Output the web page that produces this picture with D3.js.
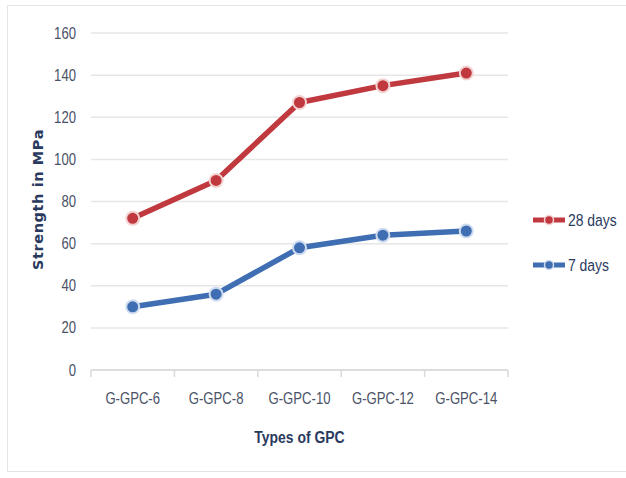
<!DOCTYPE html>
<html>
<head>
<meta charset="utf-8">
<script src="https://cdn.jsdelivr.net/npm/d3@7"></script>
<style>
  body { margin: 0; background: #fff; }
  svg { display: block; }
  text { font-family: "Liberation Sans", Arial, sans-serif; }
</style>
</head>
<body>
<svg id="chart"></svg>
<script>
// Chart data
const categories = ["G-GPC-6", "G-GPC-8", "G-GPC-10", "G-GPC-12", "G-GPC-14"];
const days28 = [72, 90, 127, 135, 141];
const days7 = [30, 36, 58, 64, 66];
const yTicks = [0, 20, 40, 60, 80, 100, 120, 140, 160];

const width = 626;
const height = 478;
const margin = { top: 33, right: 118, bottom: 108, left: 91 };
const narrow = 0.82; // squeeze text horizontally, Calibri-like

const svg = d3.select("#chart").attr("width", width).attr("height", height);

// Chart area border
svg.append("rect")
  .attr("x", 7.5).attr("y", 5.5)
  .attr("width", 630).attr("height", 466)
  .attr("fill", "#fff")
  .attr("stroke", "#e4e4e4");

const x = d3.scaleBand()
  .domain(categories)
  .range([margin.left, width - margin.right]);

const y = d3.scaleLinear()
  .domain([0, 160])
  .range([height - margin.bottom, margin.top]);

// Gridlines
svg.append("g")
  .selectAll("line")
  .data(yTicks)
  .join("line")
  .attr("x1", margin.left)
  .attr("x2", width - margin.right)
  .attr("y1", (d) => y(d))
  .attr("y2", (d) => y(d))
  .attr("stroke", "#e6e6e6")
  .attr("stroke-width", 1.5);

// Y axis labels
svg.append("g")
  .selectAll("text")
  .data(yTicks)
  .join("text")
  .attr("transform", (d) => `translate(76,${y(d) + 5.5}) scale(${narrow},1)`)
  .attr("text-anchor", "end")
  .attr("font-size", 16)
  .attr("fill", "#4a5266")
  .text((d) => d);

// X axis with category boundary ticks
const xAxisG = svg.append("g")
  .attr("transform", `translate(0,${y(0)})`);
xAxisG.append("line")
  .attr("x1", margin.left).attr("x2", width - margin.right)
  .attr("stroke", "#d9d9d9").attr("stroke-width", 1.5);
const bounds = categories.map((c) => x(c)).concat([x.range()[1]]);
xAxisG.selectAll("line.tick")
  .data(bounds)
  .join("line")
  .attr("class", "tick")
  .attr("x1", (d) => d).attr("x2", (d) => d)
  .attr("y1", 0).attr("y2", 7)
  .attr("stroke", "#d9d9d9").attr("stroke-width", 1.5);
xAxisG.selectAll("text")
  .data(categories)
  .join("text")
  .attr("transform", (d) => `translate(${x(d) + x.bandwidth() / 2},34) scale(${narrow},1)`)
  .attr("text-anchor", "middle")
  .attr("font-size", 16)
  .attr("fill", "#4a5266")
  .text((d) => d);

// Axis titles
svg.append("text")
  .attr("transform", `translate(43,${y(80) - 2}) rotate(-90)`)
  .attr("text-anchor", "middle")
  .attr("font-size", 14.5)
  .attr("font-weight", "bold")
  .attr("fill", "#2a3a5e")
  .style("font-family", "'DejaVu Sans', sans-serif")
  .style("letter-spacing", "0.6px")
  .text("Strength in MPa");

svg.append("text")
  .attr("transform", `translate(${x.range()[0] + (x.range()[1] - x.range()[0]) / 2},443) scale(${narrow},1)`)
  .attr("text-anchor", "middle")
  .attr("font-size", 17)
  .attr("font-weight", "bold")
  .attr("fill", "#2a3a5e")
  .text("Types of GPC");

// Series
const series = [
  { name: "28 days", values: days28, color: "#c0393f", light: "#f3d2d2" },
  { name: "7 days", values: days7, color: "#3f6eb3", light: "#cfdcef" },
];

const line = d3.line()
  .x((d, i) => x(categories[i]) + x.bandwidth() / 2)
  .y((d) => y(d));

series.forEach((s) => {
  const g = svg.append("g");
  g.append("path")
    .datum(s.values)
    .attr("fill", "none")
    .attr("stroke", s.color)
    .attr("stroke-width", 5.5)
    .attr("stroke-linejoin", "round")
    .attr("d", line);
  g.selectAll("circle")
    .data(s.values)
    .join("circle")
    .attr("cx", (d, i) => x(categories[i]) + x.bandwidth() / 2)
    .attr("cy", (d) => y(d))
    .attr("r", 6.5)
    .attr("fill", s.color)
    .attr("stroke", s.light)
    .attr("stroke-width", 2);
});

// Legend
const legend = svg.append("g");
series.forEach((s, i) => {
  const ly = 220 + i * 45;
  legend.append("line")
    .attr("x1", 533).attr("x2", 565)
    .attr("y1", ly).attr("y2", ly)
    .attr("stroke", s.color).attr("stroke-width", 5);
  legend.append("circle")
    .attr("cx", 549).attr("cy", ly).attr("r", 4.5)
    .attr("fill", s.color)
    .attr("stroke", s.light).attr("stroke-width", 1.5);
  legend.append("text")
    .attr("transform", `translate(568,${ly + 6}) scale(${narrow},1)`)
    .attr("font-size", 17)
    .attr("fill", "#2a3a5e")
    .text(s.name);
});
</script>
</body>
</html>
